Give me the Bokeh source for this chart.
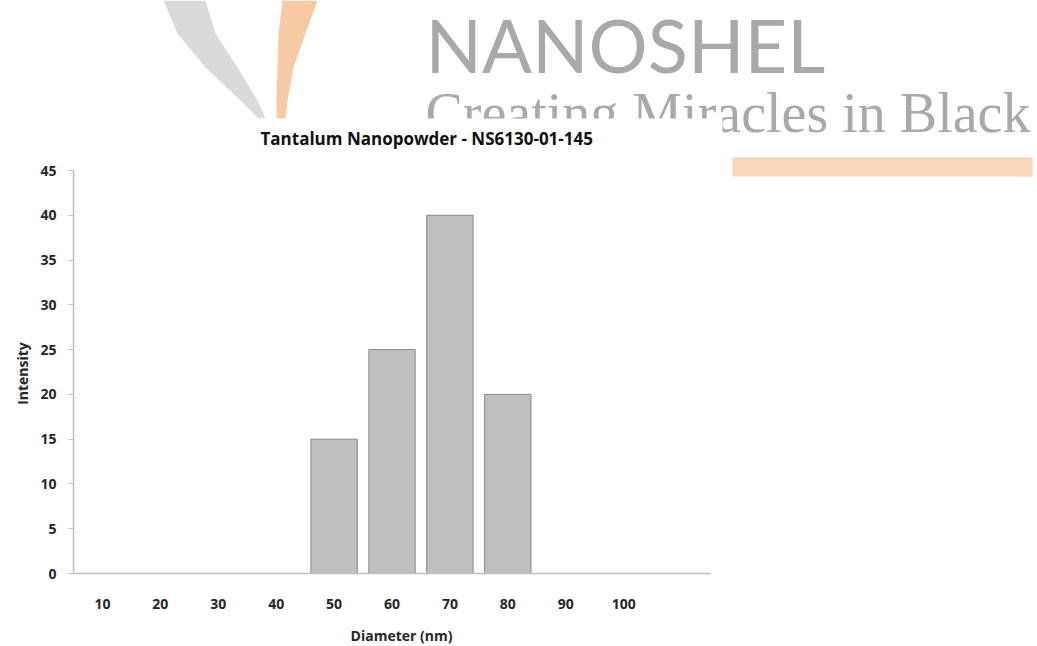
import math
from bokeh.plotting import figure
from bokeh.models import (Range1d, FixedTicker, ColumnDataSource, CDSView, BooleanFilter,
                          Label, BoxAnnotation, PolyAnnotation)
from bokeh.embed import file_html
from bokeh.resources import INLINE

# ---- data ----
diameters = ["10", "20", "30", "40", "50", "60", "70", "80", "90", "100"]
intensity = [0, 0, 0, 0, 15, 25, 40, 20, 0, 0]
y_ticks = [0, 5, 10, 15, 20, 25, 30, 35, 40, 45]
title_text = "Tantalum Nanopowder - NS6130-01-145"
x_title = "Diameter (nm)"
y_title = "Intensity"
logo_name = "NANOSHEL"
logo_tagline = "Creating  Miracles  in  Black"

# ---- layout (pixels) ----
W, H = 1037, 646
AX_L, AX_R, AX_T, AX_B = 73, 710, 170, 573   # where the chart axes sit on the canvas
n_slots = len(diameters) + 1                  # Excel-style spare slot on the right
x0, x1 = 0.5, 0.5 + n_slots
y0, y1 = 0, 45
kx = (x1 - x0) / (AX_R - AX_L)
ky = (y1 - y0) / (AX_B - AX_T)
# the frame fills the canvas (logo drawn around the chart); axes are pinned and bounded
x_start, x_end = x0 - AX_L * kx, x0 + (W - AX_L) * kx
y_start, y_end = y0 - (H - AX_B) * ky, y0 + AX_B * ky

positions = list(range(1, len(diameters) + 1))
src = ColumnDataSource(dict(x=positions, top=intensity, label=diameters))
view = CDSView(filter=BooleanFilter([v > 0 for v in intensity]))

FONT = "Open Sans"
DARK = "#262626"
AXIS = "#BFBFBF"

p = figure(width=W, height=H, output_backend="svg", toolbar_location=None,
           x_range=Range1d(x_start, x_end), y_range=Range1d(y_start, y_end), min_border=0)
p.outline_line_color = None
p.grid.visible = False
p.background_fill_color = "white"
p.border_fill_color = "white"

p.vbar(x="x", top="top", width=0.8, source=src, view=view,
       fill_color="#C0C0C0", line_color="#878787", line_width=1)

# x axis
xa = p.xaxis[0]
xa.fixed_location = y0
xa.bounds = (x0, x1)
xa.ticker = FixedTicker(ticks=positions)
xa.major_label_overrides = {pos: lab for pos, lab in zip(positions, diameters)}
xa.major_tick_line_color = None
xa.minor_tick_line_color = None
xa.major_tick_out = 0
xa.major_tick_in = 0
xa.axis_line_color = AXIS
xa.axis_line_width = 1.5
xa.major_label_standoff = 25
xa.major_label_text_font = FONT
xa.major_label_text_font_style = "bold"
xa.major_label_text_font_size = "14px"
xa.major_label_text_color = DARK

# y axis
ya = p.yaxis[0]
ya.fixed_location = x0
ya.bounds = (y0, y1)
ya.ticker = FixedTicker(ticks=y_ticks)
ya.minor_tick_line_color = None
ya.major_tick_out = 5
ya.major_tick_in = 0
ya.major_tick_line_color = AXIS
ya.axis_line_color = AXIS
ya.axis_line_width = 1.5
ya.major_label_standoff = 12
ya.major_label_text_font = FONT
ya.major_label_text_font_style = "bold"
ya.major_label_text_font_size = "14px"
ya.major_label_text_color = DARK

# ---- logo, title and axis titles (screen units from the canvas bottom-left) ----
def sx(v):
    return v
def sy(v):
    return H - v

gray_pts = [(163, 0), (177, 33), (205, 67), (240, 100), (258, 118),
            (265, 118), (257, 100), (237, 67), (215, 33), (205, 0)]
orange_pts = [(282, 0), (278, 33), (277, 67), (276, 100), (276, 118),
              (285, 118), (287, 100), (293, 67), (305, 33), (317, 0)]
p.add_layout(PolyAnnotation(xs=[sx(a) for a, b in gray_pts], ys=[sy(b) for a, b in gray_pts],
                            xs_units="screen", ys_units="screen",
                            fill_color="#DADADA", fill_alpha=1, line_color=None))
p.add_layout(PolyAnnotation(xs=[sx(a) for a, b in orange_pts], ys=[sy(b) for a, b in orange_pts],
                            xs_units="screen", ys_units="screen",
                            fill_color="#F7CAA6", fill_alpha=1, line_color=None))
p.add_layout(Label(x=sx(425), y=sy(44), x_units="screen", y_units="screen", text=logo_name,
                   text_font="Lato", text_font_size="74px", text_color="#A9A9A9",
                   text_baseline="alphabetic"))
p.add_layout(Label(x=sx(425), y=sy(112), x_units="screen", y_units="screen",
                   text=logo_tagline,
                   text_font="Liberation Serif", text_font_size="56px", text_color="#A9A9A9",
                   text_baseline="alphabetic"))
p.add_layout(BoxAnnotation(left=sx(0), right=sx(722), top=sy(118), bottom=sy(160),
                           left_units="screen", right_units="screen",
                           top_units="screen", bottom_units="screen",
                           fill_color="white", fill_alpha=1, line_color=None))
p.add_layout(BoxAnnotation(left=sx(732), right=sx(1032), top=sy(157), bottom=sy(176),
                           left_units="screen", right_units="screen",
                           top_units="screen", bottom_units="screen",
                           fill_color="#F8D4B8", fill_alpha=1, line_color=None))
p.add_layout(Label(x=sx(260), y=sy(138), x_units="screen", y_units="screen", text=title_text,
                   text_font=FONT, text_font_style="bold", text_font_size="17px",
                   text_color="#111111", text_baseline="alphabetic"))
p.add_layout(Label(x=sx(401), y=sy(635), x_units="screen", y_units="screen", text=x_title,
                   text_font=FONT, text_font_style="bold", text_font_size="14px",
                   text_color=DARK, text_align="center", text_baseline="middle"))
p.add_layout(Label(x=sx(22), y=sy(373), x_units="screen", y_units="screen", text=y_title,
                   angle=math.pi / 2,
                   text_font=FONT, text_font_style="bold", text_font_size="14px",
                   text_color=DARK, text_align="center", text_baseline="middle"))

open("out.html", "w").write(file_html(p, INLINE))
